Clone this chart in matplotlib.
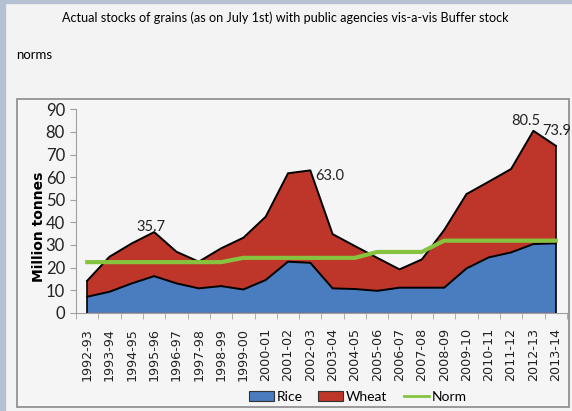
import matplotlib.pyplot as plt
from matplotlib.patches import Rectangle
from matplotlib.lines import Line2D
import numpy as np

years = ['1992-93', '1993-94', '1994-95', '1995-96', '1996-97', '1997-98',
         '1998-99', '1999-00', '2000-01', '2001-02', '2002-03', '2003-04',
         '2004-05', '2005-06', '2006-07', '2007-08', '2008-09', '2009-10',
         '2010-11', '2011-12', '2012-13', '2013-14']

rice = [7.1, 9.3, 13.0, 16.2, 13.0, 10.8, 11.8, 10.3, 14.5, 22.6, 22.1,
        10.8, 10.5, 9.7, 11.1, 11.1, 11.1, 19.6, 24.5, 26.7, 30.4, 30.7]
total = [14.2, 24.8, 30.7, 35.7, 27.0, 22.6, 28.5, 33.2, 42.5, 61.7, 63.0,
         34.8, 29.5, 24.3, 19.2, 23.6, 36.6, 52.5, 58.0, 63.6, 80.5, 73.9]
wheat = [t - r for t, r in zip(total, rice)]
norm = [22.4] * 7 + [24.3] * 6 + [26.9] * 3 + [31.9] * 6

# which peaks get a value label, and where the label sits (pixels from the point)
labelled = [3, 10, 20, 21]
label_offsets = [(-3, 5), (19, -6), (-8, 10), (1, 15)]

rice_col = '#4a7cc0'
wheat_col = '#bd3629'
norm_col = '#86c440'
bg = '#f3f3f3'
txt_font = 'Lato'

fig = plt.figure(figsize=(5.72, 4.11), dpi=100)
fig.patch.set_facecolor(bg)

# screenshot frame bits
fig.patches.append(Rectangle((0, 0), 0.009, 1, transform=fig.transFigure,
                             color='#b5c0d3', zorder=-2))
fig.patches.append(Rectangle((0, 0.992), 1, 0.008, transform=fig.transFigure,
                             color='#b5c0d3', zorder=-2))
fig.patches.append(Rectangle((0.03, 0.01), 0.965, 0.749, transform=fig.transFigure,
                             facecolor='#f5f5f5', edgecolor='#8a8a8a', lw=1.2, zorder=-1))

fig.text(0.108, 0.956, 'Actual stocks of grains (as on July 1st) with public agencies vis-a-vis Buffer stock',
         fontsize=9.1, family=txt_font, va='center', ha='left')
fig.text(0.028, 0.866, 'norms', fontsize=9.5, family=txt_font, va='center', ha='left')

ax = fig.add_axes([0.133, 0.239, 0.858, 0.495])
ax.set_facecolor('none')
x = np.arange(len(years))
rice_top = np.array(rice)
total_top = np.array(total)
ax.fill_between(x, 0, total_top, facecolor=wheat_col, edgecolor='none', zorder=2)
ax.fill_between(x, 0, rice_top, facecolor=rice_col, edgecolor='none', zorder=3)
ax.plot(x, total_top, color='black', lw=1.4, zorder=4)
ax.plot(x, rice_top, color='black', lw=1.4, zorder=4)
ax.plot([x[0], x[0]], [0, total[0]], color='black', lw=1.2, zorder=4)
ax.plot([x[-1], x[-1]], [0, total[-1]], color='black', lw=1.2, zorder=4)
ax.plot(x, norm, color=norm_col, lw=3, zorder=5)

for i, off in zip(labelled, label_offsets):
    ax.annotate('%.1f' % total[i], (x[i], total[i]), xytext=off,
                textcoords='offset pixels', ha='center', va='center',
                fontsize=10.5, family=txt_font, color='#222222')

ax.set_xlim(-0.5, len(years) - 0.5)
ax.set_ylim(0, 90)
ax.set_yticks(range(0, 91, 10))
ax.set_xticks(x)
ax.set_xticklabels(years, rotation=90, fontsize=9.2, family='DejaVu Sans', color='#222222')
ax.set_xticks(np.arange(-0.5, len(years)), minor=True)
ax.tick_params(axis='x', which='major', length=0, pad=11)
ax.tick_params(axis='x', which='minor', length=4, color='#a0a0a0', direction='out')
ax.tick_params(axis='y', length=4, color='#a0a0a0', direction='out', pad=4)
for lab in ax.get_yticklabels():
    lab.set_fontsize(12)
    lab.set_family(txt_font)
    lab.set_color('#222222')
ax.set_ylabel('Million tonnes', fontsize=10, fontweight='bold', family='DejaVu Sans')
ax.yaxis.set_label_coords(-0.062, 0.424)
for s in ['top', 'right']:
    ax.spines[s].set_visible(False)
ax.spines['left'].set_color('#a0a0a0')
ax.spines['bottom'].set_color('#a0a0a0')

handles = [Rectangle((0, 0), 1, 1, facecolor=rice_col, edgecolor='#333333', lw=0.8),
           Rectangle((0, 0), 1, 1, facecolor=wheat_col, edgecolor='#333333', lw=0.8),
           Line2D([0], [0], color=norm_col, lw=2)]
fig.legend(handles, ['Rice', 'Wheat', 'Norm'], loc='center', bbox_to_anchor=(0.625, 0.034),
           ncol=3, frameon=False, prop={'family': txt_font, 'size': 10},
           handlelength=1.8, handletextpad=0.2, columnspacing=1.15,
           borderpad=0, borderaxespad=0)

fig.savefig('out.png', dpi=100, facecolor=bg)
